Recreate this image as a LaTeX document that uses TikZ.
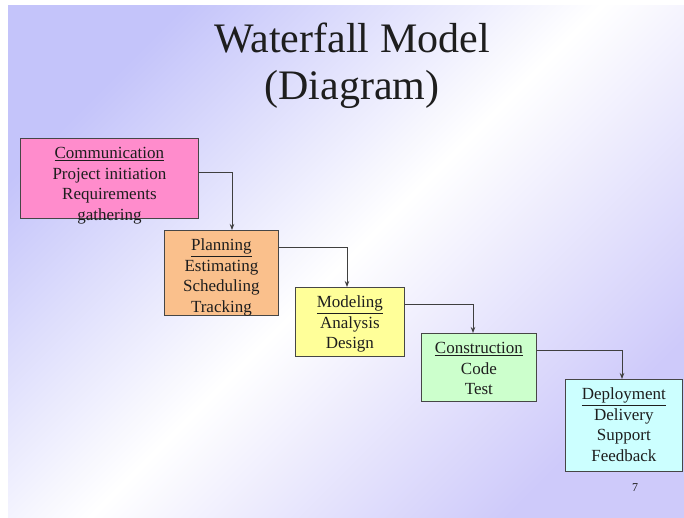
\documentclass[tikz,border=0pt]{standalone}
\usepackage{fontspec}
\setmainfont{Liberation Serif}
\usetikzlibrary{arrows.meta}
\definecolor{lav}{RGB}{196,196,250}
\definecolor{lavb}{RGB}{206,202,250}
\definecolor{cpink}{RGB}{255,140,204}
\definecolor{corange}{RGB}{250,192,140}
\definecolor{cyellow}{RGB}{255,255,153}
\definecolor{cgreen}{RGB}{204,255,204}
\definecolor{ccyan}{RGB}{204,255,255}
\definecolor{edge}{RGB}{70,70,70}
\definecolor{ink}{RGB}{30,30,30}
\tikzset{
  stage/.style={draw=edge, line width=0.8pt, inner sep=0pt, anchor=north west, text=ink},
  conn/.style={draw=edge!90!black, line width=0.8pt, -{Stealth[length=6pt,width=4.5pt]}},
}
\newcommand{\stagetext}[3]{\begin{minipage}[t][#2][t]{#1}\centering\fontsize{17}{20.5}\selectfont\vspace*{6pt}\strut #3\end{minipage}}
\begin{document}
\begin{tikzpicture}[x=1pt,y=-1pt]
\useasboundingbox (0,0) rectangle (684,517);
\fill[white] (0,0) rectangle (684,517);
\shade[top color=lav, bottom color=lavb, middle color=white, shading angle=45] (8,5) rectangle (684,517);

\node[text=ink, align=center, font=\fontsize{42}{47}\selectfont, anchor=base] (title) at (352,99) {Waterfall Model\\(Diagram)};

\node[stage, fill=cpink] (comm) at (20,138)
  {\stagetext{178pt}{80pt}{\underline{Communication}\\Project initiation\\Requirements\\gathering}};
\node[stage, fill=corange] (plan) at (164,230)
  {\stagetext{114pt}{85pt}{\underline{Planning}\\Estimating\\Scheduling\\Tracking}};
\node[stage, fill=cyellow] (model) at (295,287)
  {\stagetext{109pt}{69pt}{\underline{Modeling}\\Analysis\\Design}};
\node[stage, fill=cgreen] (constr) at (421,333)
  {\stagetext{115pt}{68pt}{\underline{Construction}\\Code\\Test}};
\node[stage, fill=ccyan] (deploy) at (565,379)
  {\stagetext{117pt}{92pt}{\underline{Deployment}\\Delivery\\Support\\Feedback}};

\draw[conn] ([yshift=-34pt]comm.north east) -| ([xshift=68pt]plan.north west);
\draw[conn] ([yshift=-17pt]plan.north east) -| ([xshift=52pt]model.north west);
\draw[conn] ([yshift=-17pt]model.north east) -| ([xshift=52pt]constr.north west);
\draw[conn] ([yshift=-17pt]constr.north east) -| ([xshift=57pt]deploy.north west);

\node[text=ink, font=\fontsize{12}{14}\selectfont] (pagenum) at (635,488) {7};
\end{tikzpicture}
\end{document}
